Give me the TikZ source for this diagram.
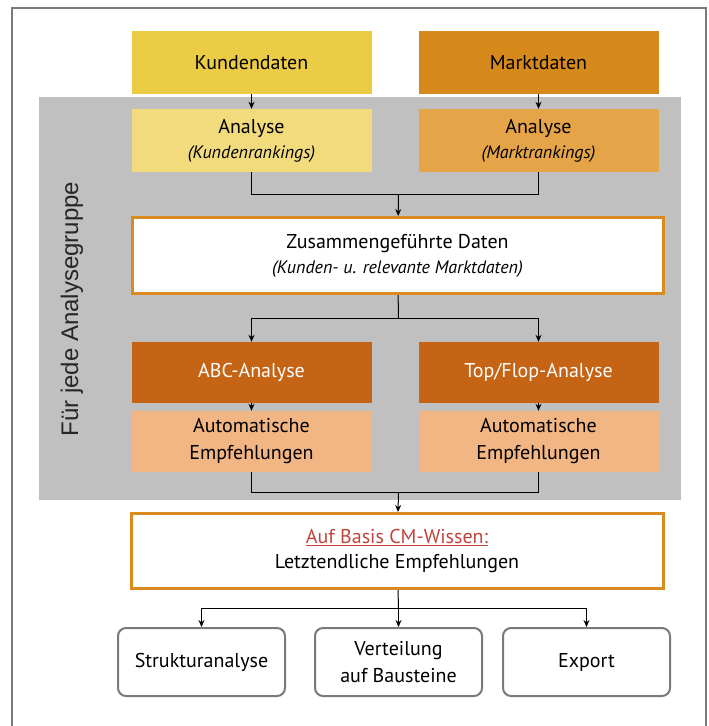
\documentclass[tikz,border=0pt]{standalone}
\usepackage{fontspec}
\setmainfont{PT Sans}
\newfontfamily\seitenfont{Liberation Sans}
\usetikzlibrary{arrows.meta}

\definecolor{kundgelb}{HTML}{ECCB45}
\definecolor{marktorange}{HTML}{D78A1C}
\definecolor{kundhell}{HTML}{F1DB7D}
\definecolor{markthell}{HTML}{E6A449}
\definecolor{rahmenorange}{HTML}{D98B1F}
\definecolor{abcbraun}{HTML}{C46414}
\definecolor{empfhell}{HTML}{F2B584}
\definecolor{gruppengrau}{HTML}{C0C0C0}
\definecolor{randgrau}{HTML}{7A7A7A}
\definecolor{cmrot}{HTML}{C0443C}

\begin{document}
\begin{tikzpicture}[x=1pt, y=-1pt, >={Stealth[length=7pt,width=6pt]},
    feld/.style={minimum width=240pt, minimum height=63pt, inner sep=0pt, align=center, font=\fontsize{20}{27}\selectfont},
    breitfeld/.style={draw=rahmenorange, line width=3pt, fill=white, minimum width=531pt, minimum height=76pt, inner sep=0pt, align=center, font=\fontsize{20}{25}\selectfont},
    ziel/.style={draw=randgrau, line width=2pt, rounded corners=8pt, fill=white, minimum width=167pt, minimum height=68pt, inner sep=0pt, align=center, font=\fontsize{20}{27}\selectfont},
    linie/.style={line width=1pt}]
    \useasboundingbox (0,0) rectangle (709,726);
    \draw[randgrau, line width=2pt] (12,8) rectangle (706,740);
    \fill[gruppengrau] (39,97) rectangle (681,500);
    \node[rotate=90, text=black!85, font=\seitenfont\fontsize{24}{28}\selectfont] (gruppe) at (72,309) {Für jede Analysegruppe};

    \node[feld, fill=kundgelb] (kd) at (251.5,62.5) {Kundendaten};
    \node[feld, fill=marktorange] (md) at (538.5,62.5) {Marktdaten};
    \node[feld, fill=kundhell] (ak) at (251.5,140.5) {Analyse\\[-2pt]{\fontsize{18}{22}\selectfont\itshape (Kundenrankings)}};
    \node[feld, fill=markthell] (am) at (538.5,140.5) {Analyse\\[-2pt]{\fontsize{18}{22}\selectfont\itshape (Marktrankings)}};
    \node[breitfeld] (zd) at (397.5,255.5) {Zusammengeführte Daten\\{\fontsize{18}{22}\selectfont\itshape (Kunden- u. relevante Marktdaten)}};
    \node[feld, fill=abcbraun, text=white, minimum height=61pt] (abc) at (251.5,372.5) {ABC-Analyse};
    \node[feld, fill=abcbraun, text=white, minimum height=61pt] (tf) at (538.5,372.5) {Top/Flop-Analyse};
    \node[feld, fill=empfhell, minimum height=61pt] (ae1) at (251.5,441.5) {Automatische\\Empfehlungen};
    \node[feld, fill=empfhell, minimum height=61pt] (ae2) at (538.5,441.5) {Automatische\\Empfehlungen};
    \node[breitfeld, minimum width=532pt, minimum height=75pt] (cm) at (397,551) {\textcolor{cmrot}{\underline{Auf Basis CM-Wissen:}}\\Letztendliche Empfehlungen};
    \node[ziel] (sa) at (201.5,662) {Strukturanalyse};
    \node[ziel] (vb) at (398.5,662) {Verteilung\\auf Bausteine};
    \node[ziel] (ex) at (586.5,662) {Export};

    \coordinate (j1) at (398.5,194.5);
    \coordinate (s1) at (398.5,318.5);
    \coordinate (j2) at (398.5,492.5);
    \coordinate (s2) at (398.5,608.5);

    \draw[linie, ->] (kd) -- (ak);
    \draw[linie, ->] (md) -- (am);
    \draw[linie] (ak) |- (j1) -| (am);
    \draw[linie, ->] (j1) -- (zd);
    \draw[linie] (zd) -- (s1);
    \draw[linie, ->] (s1) -| (abc);
    \draw[linie, ->] (s1) -| (tf);
    \draw[linie, ->] (abc) -- (ae1);
    \draw[linie, ->] (tf) -- (ae2);
    \draw[linie] (ae1) |- (j2) -| (ae2);
    \draw[linie, ->] (j2) -- (cm);
    \draw[linie] (cm) -- (s2);
    \draw[linie, ->] (s2) -| (sa);
    \draw[linie, ->] (s2) -- (vb);
    \draw[linie, ->] (s2) -| (ex);
\end{tikzpicture}
\end{document}
